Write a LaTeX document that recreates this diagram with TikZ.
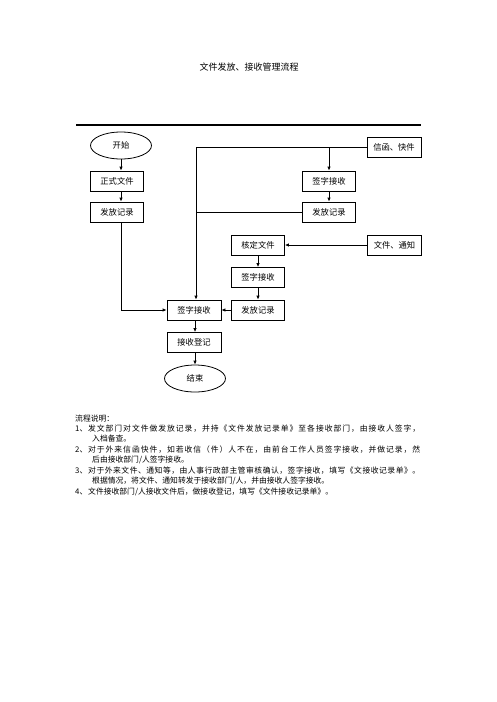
\documentclass[tikz,border=0pt]{standalone}
\usepackage{fontspec}
\setmainfont{Liberation Serif}
\newfontfamily\cjk{Noto Sans CJK SC}
\usetikzlibrary{arrows.meta,shapes.geometric}
\makeatletter
\newcommand{\jline}[1]{\hbox to 332pt{\js@first#1\@nil}}
\def\js@first#1{#1\js@rest}
\def\js@rest#1{\ifx#1\@nil\else\hfil#1\expandafter\js@rest\fi}
\makeatother
\begin{document}
\begin{tikzpicture}[x=1pt,y=-1pt,
  font=\cjk\fontsize{8.3}{10}\selectfont,
  box/.style={draw,line width=0.8pt,minimum width=53pt,minimum height=20pt,inner sep=0pt},
  term/.style={draw,ellipse,line width=0.8pt,minimum width=61pt,minimum height=27pt,inner sep=0pt},
  conn/.style={line width=0.9pt},
  arr/.style={conn,-{Latex[length=4pt,width=3.5pt]}},
  txt/.style={anchor=west,inner sep=0pt,font=\cjk\fontsize{7.8}{10}\selectfont}]
\useasboundingbox (0,0) rectangle (496,702);
\node[font=\cjk\fontsize{9}{12}\selectfont] (title) at (249,67) {文件发放、接收管理流程};
\coordinate (rl) at (76,125);
\coordinate (rr) at (421,125);
\draw[line width=1.2pt] (rl) -- (rr);
% left column
\node[term] (start) at (121,145.5) {开始};
\node[box] (zs) at (117,181) {正式文件};
\node[box] (ff1) at (117,212) {发放记录};
% right top
\node[box,minimum width=54pt] (xh) at (394,147) {信函、快件};
\node[box] (qs2) at (329,181) {签字接收};
\node[box] (ff2) at (329,212) {发放记录};
% middle column
\node[box] (hd) at (258,245) {核定文件};
\node[box,minimum width=54pt] (tz) at (394.5,245) {文件、通知};
\node[box] (qs3) at (258,277.5) {签字接收};
\node[box] (ff3) at (258,310) {发放记录};
% bottom
\node[box,minimum width=54pt] (qs) at (194,310) {签字接收};
\node[box,minimum width=54pt] (dj) at (194,342.5) {接收登记};
\node[term] (end) at (195,378.5) {结束};
% connectors
\coordinate (vtop) at (196,147);
\coordinate (jn) at (329,147);
\draw[arr] (start.south) -- (zs.north -| start.south);
\draw[arr] (zs.south -| start.south) -- (ff1.north -| start.south);
\draw[arr] (ff1.south -| start.south) |- (qs.west);
\draw[arr] (xh.west) -- (vtop) -- (qs.north -| vtop);
\draw[arr] (jn) -- (qs2.north);
\draw[arr] (qs2) -- (ff2);
\draw[conn] (ff2.west) -- (ff2.west -| vtop);
\draw[arr] (tz.west) -- (hd.east);
\draw[arr] (hd) -- (qs3);
\draw[arr] (qs3) -- (ff3);
\draw[arr] (ff3.west) -- (qs.east);
\draw[arr] (qs.south -| end.north) -- (dj.north -| end.north);
\draw[arr] (dj.south -| end.north) -- (end.north);
% explanation
\node[txt] (h0) at (75,419) {流程说明：};
\node[txt] (n1) at (75,429) {1、};
\node[txt] (l1) at (88,429) {\jline{发文部门对文件做发放记录，并持《文件发放记录单》至各接收部门，由接收人签字，}};
\node[txt] (l1b) at (92,439) {入档备查。};
\node[txt] (n2) at (75,450) {2、};
\node[txt] (l2) at (88,450) {\jline{对于外来信函快件，如若收信（件）人不在，由前台工作人员签字接收，并做记录，然}};
\node[txt] (l2b) at (92,460) {后由接收部门/人签字接收。};
\node[txt] (n3) at (75,471) {3、};
\node[txt] (l3) at (88,471) {\jline{对于外来文件、通知等，由人事行政部主管审核确认，签字接收，填写《文接收记录单》。}};
\node[txt] (l3b) at (92,481) {根据情况，将文件、通知转发于接收部门/人，并由接收人签字接收。};
\node[txt] (n4) at (75,492) {4、};
\node[txt] (l4) at (88,492) {文件接收部门/人接收文件后，做接收登记，填写《文件接收记录单》。};
\end{tikzpicture}
\end{document}
